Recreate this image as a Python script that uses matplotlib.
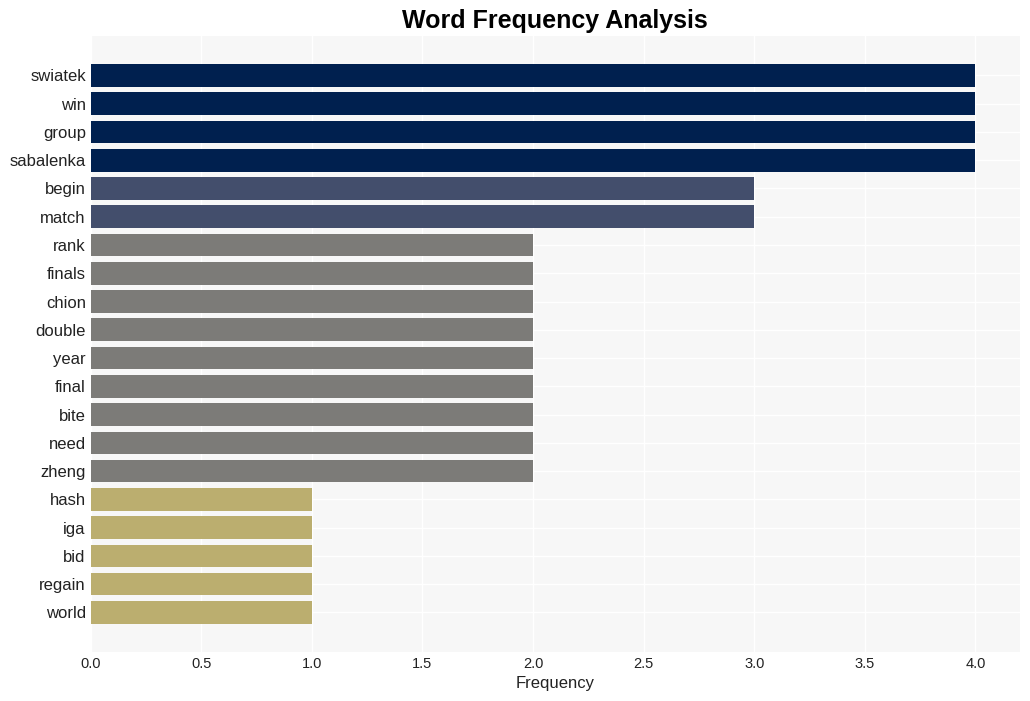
import numpy as np
import matplotlib.pyplot as plt

plt.rcParams['font.family'] = ['Liberation Sans', 'DejaVu Sans']

words = ['swiatek', 'win', 'group', 'sabalenka', 'begin', 'match', 'rank', 'finals',
         'chion', 'double', 'year', 'final', 'bite', 'need', 'zheng', 'hash', 'iga',
         'bid', 'regain', 'world']
freqs = [4, 4, 4, 4, 3, 3, 2, 2, 2, 2, 2, 2, 2, 2, 2, 1, 1, 1, 1, 1]
palette = {4: '#00204f', 3: '#434e6c', 2: '#7c7b78', 1: '#bbae6f'}

fig, ax = plt.subplots(figsize=(10.3, 7.01), dpi=100)
fig.subplots_adjust(left=0.088, right=0.99, top=0.948, bottom=0.07)

y = np.arange(len(words))
ax.barh(y, freqs, height=0.8, color=[palette[f] for f in freqs], zorder=3)
ax.set_yticks(y)
ax.set_yticklabels(words, fontsize=12, color='#222222')
ax.set_ylim(len(words) - 1 + 1.4, -1.38)
ax.set_xlim(0, 4.2)
ax.set_xticks(np.arange(0, 4.01, 0.5))
ax.tick_params(axis='x', labelsize=10.5, colors='#222222')
ax.tick_params(length=0)
ax.set_facecolor('#f7f7f7')
ax.grid(True, color='white', linewidth=1, zorder=0)
for s in ax.spines.values():
    s.set_visible(False)
ax.set_xlabel('Frequency', fontsize=12, color='#222222')
ax.set_title('Word Frequency Analysis', fontsize=18, fontweight='bold', pad=6)

plt.savefig('out.png')
